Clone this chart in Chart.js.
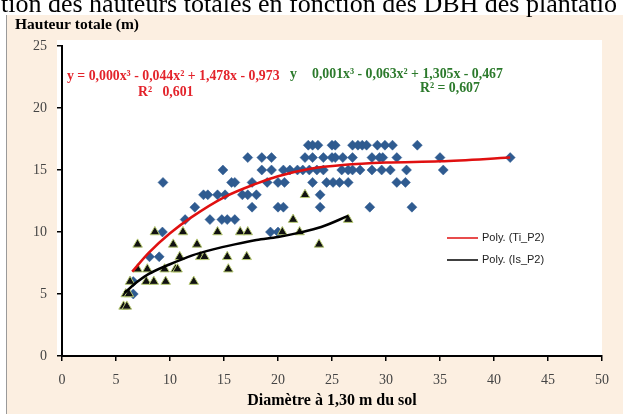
<!DOCTYPE html>
<html>
<head>
<meta charset="utf-8">
<script src="https://cdn.jsdelivr.net/npm/chart.js@4.4.1/dist/chart.umd.min.js"></script>
<style>
  html, body { margin: 0; padding: 0; background: #fff; }
  body { width: 623px; height: 414px; position: relative; overflow: hidden; }
  #cap { position: absolute; left: 1px; top: -9px; font: 26px "Liberation Serif"; line-height: 26px; white-space: nowrap; z-index: 2; color: #000; }
  #frame { position: absolute; left: 6px; top: 15px; right: 0; bottom: 0; background: #fcefe1; border-left: 1px solid #9a9a9a; }
  #wrap { position: absolute; left: 0; top: 0; width: 623px; height: 414px; }
</style>
</head>
<body>
<div id="cap">tion des hauteurs totales en fonction des DBH des plantatio</div>
<div id="frame"></div>
<div id="wrap"><canvas id="c"></canvas></div>
<script>
// valeurs (DBH en cm, hauteur en m)
const tiDbh = [
  22.8, 23.2, 23.7, 25.0, 25.3, 26.9, 27.4, 27.8, 28.2, 29.2, 29.9, 30.6, 32.9,
  17.2, 18.5, 19.4, 22.5, 23.2, 24.2, 25.0, 25.3, 26.0, 26.9, 28.7, 29.4, 29.7, 31.0, 35.0, 41.5,
  14.9, 18.5, 19.4, 20.5, 21.1, 21.8, 22.3, 22.9, 23.6, 24.2, 25.9, 26.5, 26.9, 27.6, 28.7, 29.6, 30.4, 31.9, 35.3,
  9.35, 15.7, 16.0, 17.6, 19.0, 20.0, 20.6, 23.2, 24.5, 25.1, 25.7, 26.5, 31.0, 31.8,
  13.1, 13.5, 14.4, 15.1, 16.7, 17.2, 18.0, 23.9,
  12.3, 17.6, 20.0, 20.5, 23.9, 28.5, 32.4,
  11.4, 13.7, 14.8, 15.3, 16.0,
  9.3, 19.3, 20.0,
  8.1, 9.0,
  6.6, 6.6
];
const tiHt = [
  17, 17, 17, 17, 17, 17, 17, 17, 17, 17, 17, 17, 17,
  16, 16, 16, 16, 16, 16, 16, 16, 16, 16, 16, 16, 16, 16, 16, 16,
  15, 15, 15, 15, 15, 15, 15, 15, 15, 15, 15, 15, 15, 15, 15, 15, 15, 15, 15,
  14, 14, 14, 14, 14, 14, 14, 14, 14, 14, 14, 14, 14, 14,
  13, 13, 13, 13, 13, 13, 13, 13,
  12, 12, 12, 12, 12, 12, 12,
  11, 11, 11, 11, 11,
  10, 10, 10,
  8, 8,
  6, 5
];

const isDbh = [
  22.5,
  21.4, 26.5,
  8.6, 11.2, 14.4, 16.5, 17.2, 20.4, 22.0,
  7.0, 10.3, 12.5, 23.8,
  10.9, 12.8, 13.2, 15.3, 17.1,
  7.0, 7.9, 9.5, 10.5, 10.7, 15.4,
  6.3, 7.8, 8.5, 9.6, 12.2,
  5.9, 6.2,
  5.7, 6.0
];
const isHt = [
  13,
  11, 11,
  10, 10, 10, 10, 10, 10, 10,
  9, 9, 9, 9,
  8, 8, 8, 8, 8,
  7, 7, 7, 7, 7, 7,
  6, 6, 6, 6, 6,
  5, 5,
  4, 4
];

// courbes de tendance
const tiTrendX = [6.5, 8, 10, 12, 15, 18, 20, 23, 26, 30, 35, 41.5];
const tiTrendY = [6.8, 8.3, 9.9, 11.2, 12.8, 13.9, 14.5, 15.1, 15.4, 15.6, 15.7, 16.0];
const isTrendX = [5.8, 7, 8, 10, 12, 14, 16, 18, 20, 22, 24, 26.5];
const isTrendY = [5.1, 6.0, 6.6, 7.4, 8.1, 8.6, 9.0, 9.35, 9.6, 9.95, 10.4, 11.3];

const xTicks = [0, 5, 10, 15, 20, 25, 30, 35, 40, 45, 50];
const yTicks = [0, 5, 10, 15, 20, 25];

const pts = (xs, ys) => xs.map((x, i) => ({ x: x, y: ys[i] }));

const decor = {
  id: 'decor',
  beforeDraw(chart) {
    const { ctx, chartArea: a } = chart;
    ctx.save();
    ctx.fillStyle = '#fff';
    ctx.fillRect(a.left - 5, a.top - 6, a.right - a.left + 5, a.bottom - a.top + 6);
    ctx.restore();
  },
  afterDraw(chart) {
    const ctx = chart.ctx;
    ctx.save();
    ctx.textBaseline = 'middle';
    ctx.textAlign = 'left';
    ctx.fillStyle = '#000';
    ctx.font = 'bold 15.5px "Liberation Serif"';
    ctx.fillText('Hauteur totale (m)', 15, 25);

    ctx.font = 'bold 13.8px "Liberation Serif"';
    ctx.fillStyle = '#e3232b';
    ctx.fillText('y = 0,000x³ - 0,044x² + 1,478x - 0,973', 67, 76);
    ctx.fillText('R²   0,601', 138, 92);
    ctx.fillStyle = '#2c7a2c';
    ctx.fillText('y', 290, 74);
    ctx.fillText('0,001x³ - 0,063x² + 1,305x - 0,467', 312, 74);
    ctx.fillText('R² = 0,607', 420, 88);

    // légende des courbes
    ctx.font = '11px "Liberation Sans"';
    let ly = 238;
    chart.data.datasets.forEach(ds => {
      if (!ds.label.startsWith('Poly')) return;
      ctx.strokeStyle = ds.borderColor;
      ctx.lineWidth = ds.legendWidth;
      ctx.beginPath();
      ctx.moveTo(447, ly);
      ctx.lineTo(478, ly);
      ctx.stroke();
      ctx.fillStyle = '#222';
      ctx.fillText(ds.label, 482, ly);
      ly += 22;
    });
    ctx.restore();
  }
};

new Chart(document.getElementById('c'), {
  type: 'scatter',
  data: {
    datasets: [
      {
        label: 'Poly. (Ti_P2)',
        data: pts(tiTrendX, tiTrendY),
        showLine: true,
        borderColor: '#e01010',
        borderWidth: 2.5,
        legendWidth: 1.5,
        pointRadius: 0,
        tension: 0.4,
        cubicInterpolationMode: 'monotone',
        order: 0
      },
      {
        label: 'Poly. (Is_P2)',
        data: pts(isTrendX, isTrendY),
        showLine: true,
        borderColor: '#000',
        borderWidth: 2.5,
        legendWidth: 1.5,
        pointRadius: 0,
        tension: 0.4,
        cubicInterpolationMode: 'monotone',
        order: 0
      },
      {
        label: 'Is_P2',
        data: pts(isDbh, isHt),
        pointStyle: 'triangle',
        pointRadius: 5.5,
        backgroundColor: '#111',
        borderColor: '#b8cb74',
        borderWidth: 1,
        order: 1
      },
      {
        label: 'Ti_P2',
        data: pts(tiDbh, tiHt),
        pointStyle: 'rectRot',
        pointRadius: 5,
        backgroundColor: '#2f5b90',
        borderColor: '#2f5b90',
        borderWidth: 0.5,
        order: 2
      }
    ]
  },
  options: {
    responsive: true,
    maintainAspectRatio: false,
    animation: false,
    events: [],
    layout: { padding: { left: 0, top: 46, right: 21, bottom: 0 } },
    plugins: { legend: { display: false }, tooltip: { enabled: false } },
    scales: {
      x: {
        type: 'linear',
        min: 0, max: 50,
        afterBuildTicks: s => { s.ticks = xTicks.map(v => ({ value: v })); },
        afterFit: s => { s.height = 58; },
        grid: { drawOnChartArea: false, drawTicks: true, tickLength: 5, color: '#000', lineWidth: 1.5 },
        border: { display: true, color: '#000', width: 2 },
        ticks: { color: '#444', padding: 11, font: { family: 'Liberation Serif', size: 14 } },
        title: {
          display: true,
          text: 'Diamètre à 1,30 m du sol',
          color: '#000',
          padding: { top: 4, bottom: 4 },
          font: { family: 'Liberation Serif', size: 16, weight: 'bold' }
        }
      },
      y: {
        type: 'linear',
        min: 0, max: 25,
        afterBuildTicks: s => { s.ticks = yTicks.map(v => ({ value: v })); },
        afterFit: s => { s.width = 62; },
        grid: { drawOnChartArea: false, drawTicks: true, tickLength: 5, color: '#000', lineWidth: 1.5 },
        border: { display: true, color: '#000', width: 2 },
        ticks: { color: '#444', padding: 10, font: { family: 'Liberation Serif', size: 14 } }
      }
    }
  },
  plugins: [decor]
});
</script>
</body>
</html>
